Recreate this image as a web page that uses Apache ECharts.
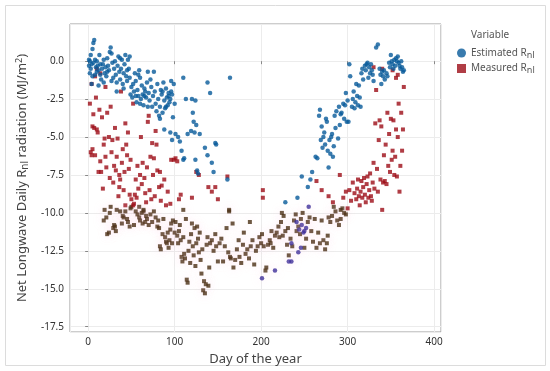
<!DOCTYPE html>
<html><head><meta charset="utf-8">
<script src="https://cdn.jsdelivr.net/npm/echarts@6/dist/echarts.min.js"></script>
<style>html,body{margin:0;padding:0;background:#fff}#c{width:550px;height:371px}</style>
</head><body><div id="c"></div>
<script>
// Estimated R_nl: [day of year, MJ/m2]
const estimated = [
[1,-0.3],[2,0.0],[3,-0.5],[4,-0.2],[5,0.8],[6,1.2],[7,1.4],[2,-0.8],[4,-1.5],[6,-0.1],[8,0.1],[9,-0.4],[10,-0.7],[3,0.4],[1,0.1],[5,-1.0],[8,-0.9],[10,0.0],
[11,-0.3],[12,-0.6],[13,0.4],[14,-0.9],[15,-1.2],[16,-0.5],[17,-0.2],[18,0.1],[19,-0.8],[20,-0.4],[21,-1.0],[22,0.2],[23,-0.3],[24,-0.6],[25,0.6],[26,0.9],[27,0.5],[28,-0.1],[29,-1.1],[30,-0.5],[14,-0.2],[18,-1.4],[22,-0.7],[27,-1.3],[12,-1.6],
[31,0.0],[32,-0.9],[33,-1.4],[34,-0.3],[35,0.3],[36,-0.7],[37,-1.2],[38,-0.5],[39,0.1],[40,-1.5],[41,-0.8],[42,-0.2],[43,0.4],[44,-1.0],[45,-1.3],[46,0.1],[47,-0.5],[48,0.3],[49,-2.2],[50,-1.7],[33,-2.0],[37,0.2],[41,-1.8],[45,-0.6],[48,-1.1],
[51,-2.4],[52,-1.5],[53,-2.0],[54,-0.8],[55,-1.3],[56,-2.7],[57,-1.9],[58,-2.3],[59,-0.6],[60,-1.1],[61,-2.5],[62,-1.6],[63,-2.2],[64,-2.9],[65,-1.8],[66,-2.0],[67,-2.4],[68,-1.4],[69,-0.7],[70,-2.1],[55,-2.3],[60,-2.8],[65,-2.3],[69,-3.0],[58,-0.9],
[71,-2.6],[72,-1.2],[73,-1.7],[74,-3.0],[75,-2.3],[76,-0.7],[77,-2.0],[78,-2.8],[79,-3.3],[80,-1.5],[81,-2.5],[82,-3.6],[83,-3.0],[84,-1.9],[85,-2.2],[86,-3.4],[87,-1.4],[88,-2.6],[89,-3.1],[90,-1.8],[91,-2.4],[92,-2.9],[93,-2.1],[94,-2.7],[95,-2.5],[96,-1.3],[97,-2.2],[98,-3.7],[99,-1.5],[100,-2.8],[83,-3.8],[86,-2.0],[90,-3.0],[93,-2.3],[96,-2.0],
[88,-4.5],[95,-4.7],[97,-5.2],[101,-4.8],[104,-5.0],[106,-5.3],[108,-5.9],[110,-6.5],[110,-1.1],[113,-2.5],[115,-4.8],[119,-4.6],[120,-2.5],[121,-3.4],[122,-4.0],[123,-4.7],[124,-6.5],[125,-4.2],[126,-7.2],[127,-7.4],[124,-2.6],[138,-1.4],[141,-2.1],[135,-5.7],[138,-6.2],[143,-6.7],[145,-7.3],[147,-5.4],[148,-5.5],[161,-7.8],[164,-1.1],[111,-6.4],[129,-4.8],
[201,-14.3],[216,-13.8],[228,-9.3],[232,-13.2],[235,-13.2],[243,-12.6],[244,-11.1],[247,-10.8],[250,-11.2],[252,-11.0],[255,-9.6],[241,-10.6],[242,-9.0],[246,-12.3],[249,-11.3],[235,-12.0],
[247,-7.6],[254,-8.3],[257,-7.8],[259,-7.3],[263,-6.3],[265,-6.4],[267,-3.6],[268,-3.2],[269,-5.2],[270,-4.3],[271,-5.7],[272,-5.0],[273,-4.7],[274,-5.5],[275,-3.8],[276,-4.0],[277,-5.9],[278,-7.0],[279,-5.2],[280,-6.1],[281,-5.0],[282,-4.8],[283,-6.3],[284,-5.6],[285,-3.6],[286,-4.4],[287,-3.3],[289,-5.1],[290,-3.0],[291,-4.2],[292,-3.5],[293,-3.4],[295,-2.8],[296,-3.8],[297,-2.9],[298,-2.1],[299,-4.0],[300,-2.6],[301,-4.0],[302,-0.2],[303,-1.0],[305,-3.0],[306,-2.5],[307,-2.0],[308,-3.1],[309,-2.7],[310,-1.5],[311,-2.3],[312,-2.9],[313,-1.6],[314,-2.4],[315,-3.0],[316,-0.8],[317,-0.5],[318,-1.2],[320,-0.3],[321,-0.6],[322,-0.2],[323,-0.1],[324,-1.1],[325,-0.4],[326,-0.8],[327,-0.2],[328,-0.6],[329,-0.9],[330,-1.3],[333,0.9],[335,1.1],[337,-0.5],[338,-0.9],[339,-1.5],[340,-0.7],[341,-1.0],[342,-0.6],[343,-1.2],[345,-0.8],[346,-1.0],[348,-0.1],[349,-0.4],[350,0.4],[351,0.0],[352,-0.2],[353,-0.5],[354,0.1],[355,-0.3],[356,0.2],[357,0.0],[358,0.3],[359,-0.1],[360,-0.3],[361,-0.5],[362,0.0],[363,-0.4],[364,-0.7],[365,-0.6]
];
// Measured R_nl: [day of year, MJ/m2]
const measured = [
[2,-2.8],[3,-6.0],[4,-1.5],[4,-6.2],[5,-4.3],[6,-3.5],[7,-4.4],[8,-6.2],[9,-2.4],[10,-4.5],[11,-4.7],[12,-7.3],[13,-3.2],[14,-6.6],[15,-7.3],[16,-3.7],[17,-8.4],[18,-5.5],[19,-5.1],[20,-6.3],[21,-7.0],[10,-0.5],[14,-0.8],[20,-1.7],[22,-3.4],[5,-5.8],[8,-1.0],
[24,-5.0],[25,-7.7],[26,-3.0],[27,-6.0],[28,-5.2],[29,-8.0],[30,-6.9],[31,-4.4],[32,-7.2],[33,-6.3],[34,-5.1],[35,-8.9],[36,-7.5],[37,-7.8],[38,-2.0],[39,-6.7],[40,-5.8],[41,-8.5],[42,-7.3],[43,-4.1],[44,-5.5],[45,-6.2],[46,-4.7],[47,-7.1],[48,-8.8],[49,-6.5],[50,-9.1],[33,-9.8],[36,-8.3],[40,-10.2],[43,-9.5],
[52,-2.8],[53,-9.4],[54,-8.8],[55,-7.8],[56,-9.0],[57,-6.9],[58,-8.4],[59,-9.6],[60,-7.5],[61,-5.0],[62,-8.1],[63,-6.7],[64,-9.9],[65,-7.7],[66,-8.7],[67,-9.3],[68,-7.0],[69,-4.0],[70,-3.6],[71,-8.5],[72,-6.3],[73,-9.1],[74,-5.4],[75,-7.5],[76,-6.4],[77,-8.9],[78,-4.6],[79,-5.5],[80,-7.2],[82,-8.3],[83,-7.3],[84,-9.2],[85,-8.2],[88,-7.8],[90,-9.5],[92,-8.6],[95,-9.4],
[96,-6.5],[99,-6.5],[101,-6.4],[103,-6.6],[105,-9.1],[107,-8.8],[110,-9.8],[120,-9.0],[125,-7.3],[128,-7.5],[139,-8.3],[143,-8.6],[147,-8.3],[150,-9.1],[161,-7.6],[163,-9.8],[202,-8.5],[202,-9.0],
[18,-10.5],[19,-9.8],[21,-10.3],[22,-11.4],[24,-11.3],[25,-10.0],[26,-9.6],[29,-11.0],[30,-10.8],[31,-10.9],[32,-11.2],[37,-9.9],[39,-10.7],[41,-10.3],[43,-9.9],[45,-10.4],[46,-10.6],[48,-10.9],[49,-9.7],[50,-9.6],[52,-9.5],[53,-10.8],[55,-9.9],[57,-10.1],[59,-10.3],[60,-10.5],
[62,-10.0],[63,-10.7],[64,-9.8],[66,-10.6],[67,-10.2],[68,-10.4],[70,-10.8],[72,-10.1],[74,-10.6],[76,-9.9],[78,-10.3],[80,-10.9],[81,-10.5],[82,-11.0],[83,-12.2],[84,-12.4],[86,-11.4],[87,-10.4],[89,-11.6],[90,-11.9],[91,-12.0],[92,-11.3],[93,-12.3],[94,-11.8],[95,-11.1],[96,-10.7],[97,-12.0],[98,-10.5],[100,-11.3],
[101,-10.6],[103,-11.5],[104,-12.0],[105,-11.2],[106,-10.8],[107,-11.8],[108,-12.9],[109,-13.2],[110,-11.6],[111,-12.7],[112,-13.0],[113,-10.4],[114,-14.4],[115,-14.6],[116,-12.5],[117,-11.9],[118,-13.3],[119,-11.4],[120,-10.7],[121,-12.2],[122,-12.8],[123,-11.0],[124,-13.5],[125,-12.0],[126,-10.9],[127,-11.7],[128,-12.6],[129,-11.3],[130,-13.1],[131,-14.0],[132,-12.4],[133,-15.1],[134,-14.5],[135,-15.3],[136,-14.7],[137,-12.1],[138,-11.6],[139,-14.8],[140,-13.6],
[141,-12.0],[143,-11.8],[145,-12.5],[147,-11.4],[148,-12.2],[150,-13.2],[152,-12.0],[154,-11.7],[156,-13.2],[158,-12.2],[160,-11.0],[162,-12.6],[164,-12.9],[165,-13.0],[167,-10.7],[168,-13.6],[170,-13.1],[172,-12.4],[174,-11.8],[175,-12.9],[177,-13.3],[179,-12.1],[180,-11.3],[182,-12.7],[184,-12.4],[186,-13.0],[188,-12.2],[190,-11.8],[192,-13.4],[194,-12.5],[196,-12.2],[198,-11.6],[200,-12.0],[163,-9.9],[187,-10.6],
[201,-11.4],[203,-12.2],[205,-13.8],[206,-13.6],[208,-12.1],[210,-11.8],[211,-12.0],[212,-11.2],[214,-12.3],[216,-11.5],[218,-11.3],[220,-10.9],[221,-11.6],[223,-10.6],[224,-10.0],[225,-11.5],[226,-10.2],[228,-11.2],[230,-12.1],[231,-11.0],[232,-12.8],[234,-11.7],[236,-12.2],[238,-10.5],[240,-10.1],[241,-11.2],[243,-10.9],[245,-11.4],[246,-10.4],[248,-10.0],[250,-12.3],[252,-11.7],[254,-10.6],[256,-10.3],[258,-11.2],[260,-11.9],[262,-10.4],[264,-12.3],[266,-11.3],[268,-12.0],[270,-10.5],
[272,-11.8],[274,-12.4],[276,-12.0],[277,-11.5],[278,-10.3],[280,-10.6],[282,-10.2],[284,-9.6],[286,-9.9],[288,-10.5],[290,-10.8],[292,-10.4],[294,-9.7],[296,-10.0],[298,-10.1],
[264,-7.9],[270,-8.5],[278,-8.9],[283,-9.3],[291,-7.5],
[292,-9.8],[295,-9.0],[298,-8.6],[300,-9.7],[302,-8.5],[304,-9.2],[306,-8.0],[308,-8.7],[310,-9.1],[311,-8.4],[312,-7.8],[313,-8.9],[314,-9.5],[315,-8.6],[316,-7.9],[317,-9.0],[318,-8.3],[319,-7.7],[320,-8.8],[321,-9.3],[322,-8.1],[323,-7.6],[324,-9.0],[325,-8.5],[326,-7.4],[327,-8.9],[328,-9.2],[329,-8.0],[330,-6.7],[331,-8.4],[332,-4.1],[333,-1.9],[334,-7.1],[335,-8.6],[336,-5.2],[337,-3.9],[338,-7.8],[339,-4.3],[340,-9.8],[341,-8.0],[342,-6.2],[343,-7.9],[344,-5.5],[345,-8.1],[346,-3.4],[347,-6.9],[348,-4.8],[349,-7.3],[350,-3.8],[351,-6.5],[352,-5.9],[353,-3.9],[354,-7.5],[355,-6.3],[356,-4.5],[357,-7.6],[358,-5.0],[359,-2.8],[360,-8.6],[361,-6.9],[362,-3.4],[363,-5.9],[364,-4.5],[365,-1.7],[330,-0.4],[340,-0.5],[352,-0.6],[356,-1.1],[358,-0.9]
];
const seriesNames = ['Estimated', 'Measured'];
const xTicks = [0, 100, 200, 300, 400];
const yTicks = [-17.5, -15, -12.5, -10, -7.5, -5, -2.5, 0];

const FONT = "'Noto Sans', 'Open Sans', sans-serif";
const BLUE = '#075a9a', RED = '#9c0d16', BROWN = '#4a2f14', PURPLE = '#3f2f9a';
const halo = {shadowBlur: 8, shadowColor: 'rgba(255,190,225,0.45)'};

const estData = estimated.map(p => p[1] < -9.5
  ? {value: p, itemStyle: Object.assign({color: PURPLE}, halo)} : {value: p});
const meaData = measured.map(p => (p[1] < -9.5 && p[0] < 300)
  ? {value: p, itemStyle: Object.assign({color: BROWN}, halo)} : {value: p});

const chart = echarts.init(document.getElementById('c'), null, {renderer: 'canvas'});
chart.setOption({
  backgroundColor: '#fff',
  animation: false,
  textStyle: {fontFamily: FONT},
  graphic: [
    {type: 'rect', shape: {x: 5.5, y: 5.5, width: 540, height: 360}, style: {fill: 'none', stroke: '#dcdcdc', lineWidth: 1}, z: -1},
    {type: 'text', left: 471, top: 30, style: {text: 'Variable', fontSize: 10, fill: '#555', fontFamily: FONT}}
  ],
  grid: {left: 70, right: 109, top: 24, bottom: 34, show: true, borderColor: '#9a9a9a', borderWidth: 1},
  legend: {
    orient: 'vertical', left: 452, top: 43, itemGap: 4, itemWidth: 9, itemHeight: 9,
    textStyle: {fontSize: 10, color: '#555', fontFamily: FONT, rich: {sub: {fontSize: 9, color: '#555', fontFamily: FONT, padding: [4, 0, 0, 0]}}},
    formatter: n => n + ' R{sub|nl}',
    data: [
      {name: seriesNames[0], icon: 'circle', itemStyle: {color: BLUE}},
      {name: seriesNames[1], icon: 'rect', itemStyle: {color: RED}}
    ]
  },
  xAxis: {
    type: 'value', min: -21, max: 408, minInterval: 100, maxInterval: 100, splitNumber: 5,
    name: 'Day of the year', nameLocation: 'middle', nameGap: 21,
    nameTextStyle: {fontSize: 13, color: '#444', fontFamily: FONT},
    axisLine: {show: false},
    axisTick: {show: true, length: 3, lineStyle: {color: '#888'}},
    axisLabel: {fontSize: 10, color: '#333', margin: 5, showMinLabel: false, showMaxLabel: false,
      formatter: v => xTicks.includes(v) ? String(v) : ''},
    splitLine: {show: true, lineStyle: {color: '#ececec', width: 1}}
  },
  yAxis: {
    type: 'value', min: -17.85, max: 2.45, minInterval: 2.5, maxInterval: 2.5, splitNumber: 10,
    name: 'Net Longwave Daily R{s|nl} radiation (MJ/m{p|2})', nameLocation: 'middle', nameGap: 40,
    nameTextStyle: {fontSize: 13, color: '#444', fontFamily: FONT,
      rich: {s: {fontSize: 10, color: '#444', fontFamily: FONT, padding: [5, 0, 0, 0]},
             p: {fontSize: 9, color: '#444', fontFamily: FONT, padding: [0, 0, 6, 0]}}},
    axisLine: {show: false},
    axisTick: {show: true, length: 3, lineStyle: {color: '#888'}},
    axisLabel: {fontSize: 10, color: '#333', margin: 6, showMinLabel: false, showMaxLabel: false,
      formatter: v => yTicks.some(t => Math.abs(t - v) < 1e-6) ? v.toFixed(1) : ''},
    splitLine: {show: true, lineStyle: {color: '#ececec', width: 1}}
  },
  series: [
    {name: seriesNames[1], type: 'scatter', symbol: 'rect', symbolSize: 4, itemStyle: {color: RED}, data: meaData, z: 2},
    {name: seriesNames[0], type: 'scatter', symbol: 'circle', symbolSize: 4.5, itemStyle: {color: BLUE}, data: estData, z: 3}
  ]
});
</script></body></html>
